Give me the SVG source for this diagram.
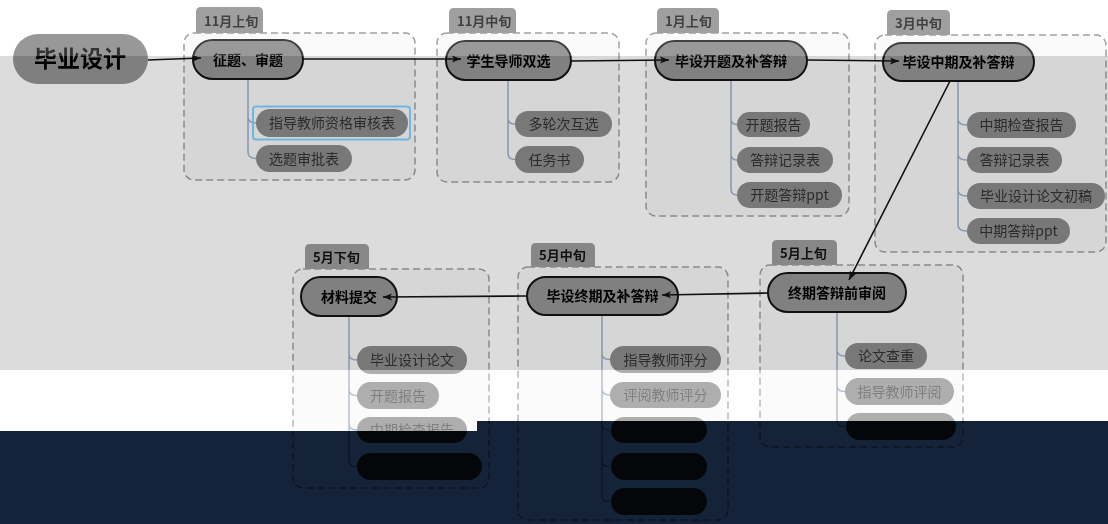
<svg xmlns="http://www.w3.org/2000/svg" width="1108" height="524" viewBox="0 0 1108 524">
<style>
.cjk{font-family:"Noto Sans CJK SC","Noto Sans",sans-serif}
.box{fill:rgba(0,0,0,0.025);stroke:#8a8a8a;stroke-width:1.5;stroke-dasharray:7 4}
.tab{fill:#878787}
.tabt{font-size:13px;font-weight:bold;fill:#111}
.main{fill:#808080;stroke:#111;stroke-width:2}
.maint{font-size:14px;font-weight:bold;fill:#000;text-anchor:middle}
.child{fill:#787878}
.childA{fill:url(#gA)}
.childB{fill:url(#gB)}
.childt{font-size:14px;fill:#2b2b2b;text-anchor:middle}
.branch{fill:none;stroke:#8797ad;stroke-width:1.5}
.flow{fill:none;stroke:#111;stroke-width:1.6;marker-end:url(#ah)}
</style>
<defs>
<marker id="ah" markerUnits="userSpaceOnUse" markerWidth="10" markerHeight="8" refX="9" refY="4" orient="auto">
<path d="M0,0.5 L9,4 L0,7.5 L2,4 Z" fill="#111"/>
</marker>
<linearGradient id="gA" gradientUnits="userSpaceOnUse" x1="0" y1="0" x2="0" y2="524">
<stop offset="0.8225" stop-color="#787878"/>
<stop offset="0.8225" stop-color="#262626"/>
</linearGradient>
<linearGradient id="gB" gradientUnits="userSpaceOnUse" x1="0" y1="0" x2="0" y2="524">
<stop offset="0.8034" stop-color="#787878"/>
<stop offset="0.8034" stop-color="#262626"/>
</linearGradient>
</defs>
<rect x="0" y="0" width="1108" height="524" fill="#fff"/>
<rect x="0" y="56" width="1108" height="314" fill="#dcdcdc"/>

<g id="root">
<rect x="13" y="34" width="135" height="50" rx="25" fill="#7f7f7f"/>
<text class="cjk" x="80" y="67" font-size="23" font-weight="bold" text-anchor="middle" fill="#000">毕业设计</text>
</g>

<g id="g1">
<path class="tab" d="M196,33 V12 Q196,7 201,7 H258 Q263,7 263,12 V33 Z"/>
<text class="cjk tabt" x="204" y="26">11月上旬</text>
<rect class="box" x="184" y="33" width="231" height="147" rx="10"/>
<path class="branch" d="M248,79 V117 Q248,123 256,123 M248,117 V152 Q248,158.5 256,158.5"/>
<rect class="main" x="193" y="40" width="110" height="39" rx="19.5"/>
<text class="cjk maint" x="248" y="64.5">征题、审题</text>
<rect x="253" y="106.5" width="157" height="33" rx="3" fill="none" stroke="#6fb6e4" stroke-width="2"/>
<rect class="child" x="256" y="109" width="152" height="28" rx="14"/>
<text class="cjk childt" x="332" y="128">指导教师资格审核表</text>
<rect class="child" x="256" y="145" width="96" height="27" rx="13.5"/>
<text class="cjk childt" x="304" y="163.5">选题审批表</text>
</g>

<g id="g2">
<path class="tab" d="M449,33 V13 Q449,8 454,8 H511 Q516,8 516,13 V33 Z"/>
<text class="cjk tabt" x="457" y="26">11月中旬</text>
<rect class="box" x="437" y="33" width="182" height="149" rx="10"/>
<path class="branch" d="M508,80 V118 Q508,124 515,124 M508,153 Q508,159.5 515,159.5 M508,118 V153"/>
<rect class="main" x="446" y="41" width="125" height="39" rx="19.5"/>
<text class="cjk maint" x="508.5" y="65.5">学生导师双选</text>
<rect class="child" x="515" y="111" width="97" height="26" rx="13"/>
<text class="cjk childt" x="563.5" y="129">多轮次互选</text>
<rect class="child" x="515" y="146" width="69" height="27" rx="13.5"/>
<text class="cjk childt" x="549.5" y="164.5">任务书</text>
</g>

<g id="g3">
<path class="tab" d="M657,33 V13 Q657,8 662,8 H714 Q719,8 719,13 V33 Z"/>
<text class="cjk tabt" x="665" y="26">1月上旬</text>
<rect class="box" x="646" y="33" width="203" height="183" rx="10"/>
<path class="branch" d="M731,80 V118.5 Q731,124.5 737,124.5 M731,118.5 V154 Q731,160 737,160 M731,154 V189 Q731,195 737,195"/>
<rect class="main" x="655" y="41" width="152" height="39" rx="19.5"/>
<text class="cjk maint" x="731" y="65.5">毕设开题及补答辩</text>
<rect class="child" x="737" y="112" width="73" height="25" rx="12.5"/>
<text class="cjk childt" x="773.5" y="129.5">开题报告</text>
<rect class="child" x="737" y="147" width="96" height="26" rx="13"/>
<text class="cjk childt" x="785" y="165">答辩记录表</text>
<rect class="child" x="737" y="182" width="105" height="26" rx="13"/>
<text class="cjk childt" x="789.5" y="200">开题答辩ppt</text>
</g>

<g id="g4">
<path class="tab" d="M887,35 V15 Q887,10 892,10 H945 Q950,10 950,15 V35 Z"/>
<text class="cjk tabt" x="895" y="28">3月中旬</text>
<rect class="box" x="875" y="35" width="231" height="217" rx="10"/>
<path class="branch" d="M958,81 V119 Q958,125 967,125 M958,119 V154 Q958,160 967,160 M958,154 V190 Q958,196 967,196 M958,190 V225 Q958,231 967,231"/>
<rect class="main" x="883" y="43" width="151" height="38" rx="19"/>
<text class="cjk maint" x="958.5" y="67">毕设中期及补答辩</text>
<rect class="child" x="967" y="112" width="109" height="26" rx="13"/>
<text class="cjk childt" x="1021.5" y="130">中期检查报告</text>
<rect class="child" x="967" y="147" width="95" height="26" rx="13"/>
<text class="cjk childt" x="1014.5" y="165">答辩记录表</text>
<rect class="child" x="967" y="183" width="138" height="26" rx="13"/>
<text class="cjk childt" x="1036" y="201">毕业设计论文初稿</text>
<rect class="child" x="967" y="218" width="103" height="26" rx="13"/>
<text class="cjk childt" x="1018.5" y="236">中期答辩ppt</text>
</g>

<g id="g5">
<path class="tab" d="M772,265 V245 Q772,240 777,240 H832 Q837,240 837,245 V265 Z"/>
<text class="cjk tabt" x="780" y="258">5月上旬</text>
<rect class="box" x="760" y="265" width="203" height="182" rx="10"/>
<path class="branch" d="M837,312 V350 Q837,356 845,356 M837,350 V385.5 Q837,391.5 845,391.5 M837,385.5 V420.5 Q837,426.5 845,426.5"/>
<rect class="main" x="768" y="273" width="138" height="39" rx="19.5"/>
<text class="cjk maint" x="837" y="297.5">终期答辩前审阅</text>
<rect class="child" x="845" y="343" width="82" height="26" rx="13"/>
<text class="cjk childt" x="886" y="361">论文查重</text>
<rect class="child" x="845" y="378" width="109" height="27" rx="13.5"/>
<text class="cjk childt" x="899.5" y="396.5">指导教师评阅</text>
<rect class="childB" x="846" y="413" width="110" height="27" rx="13.5"/>
</g>

<g id="g6">
<path class="tab" d="M531,267 V248 Q531,243 536,243 H590 Q595,243 595,248 V267 Z"/>
<text class="cjk tabt" x="539" y="260">5月中旬</text>
<rect class="box" x="518" y="267" width="210" height="253" rx="10"/>
<path class="branch" d="M602,315 V353.5 Q602,359.5 610,359.5 M602,353.5 V389 Q602,395 610,395 M602,389 V424 Q602,430 610,430 M602,424 V460.5 Q602,466.5 610,466.5 M602,460.5 V495.5 Q602,501.5 610,501.5"/>
<rect class="main" x="527" y="277" width="151" height="38" rx="19"/>
<text class="cjk maint" x="602.5" y="301">毕设终期及补答辩</text>
<rect class="child" x="610" y="346" width="111" height="27" rx="13.5"/>
<text class="cjk childt" x="665.5" y="364.5">指导教师评分</text>
<rect class="child" x="610" y="382" width="111" height="26" rx="13"/>
<text class="cjk childt" x="665.5" y="400">评阅教师评分</text>
<rect class="childB" x="611" y="417" width="96" height="26" rx="13"/>
<rect class="childB" x="611" y="453" width="96" height="27" rx="13.5"/>
<rect class="childB" x="611" y="488" width="96" height="27" rx="13.5"/>
</g>

<g id="g7">
<path class="tab" d="M305,269 V249 Q305,244 310,244 H364 Q369,244 369,249 V269 Z"/>
<text class="cjk tabt" x="313" y="262">5月下旬</text>
<rect class="box" x="293" y="269" width="196" height="219" rx="10"/>
<path class="branch" d="M349,316 V354 Q349,360 357,360 M349,354 V389.5 Q349,395.5 357,395.5 M349,389.5 V424 Q349,430 357,430 M349,424 V460.5 Q349,466.5 357,466.5"/>
<rect class="main" x="301" y="277" width="96" height="39" rx="19.5"/>
<text class="cjk maint" x="349" y="301.5">材料提交</text>
<rect class="child" x="357" y="346" width="110" height="28" rx="14"/>
<text class="cjk childt" x="412" y="365">毕业设计论文</text>
<rect class="child" x="357" y="382" width="82" height="27" rx="13.5"/>
<text class="cjk childt" x="398" y="400.5">开题报告</text>
<rect class="childA" x="357" y="417" width="110" height="26" rx="13"/>
<text class="cjk childt" x="412" y="435">中期检查报告</text>
<rect class="childA" x="357" y="453" width="125" height="27" rx="13.5"/>
</g>

<g id="connectors">
<path class="flow" d="M148,60 L201,58"/>
<path class="flow" d="M303,59 L461,59"/>
<path class="flow" d="M571,61 L669,60"/>
<path class="flow" d="M807,60 L899,61"/>
<path class="flow" d="M950,81 L849,280"/>
<path class="flow" d="M768,293 L662,295"/>
<path class="flow" d="M527,296 L383,297"/>
</g>

<rect x="0" y="0" width="1108" height="56" fill="#fff" opacity="0.2"/>
<path d="M0,370 H1108 V421 H477 V431 H0 Z" fill="#fff" opacity="0.4"/>
<path d="M0,431 H477 V421 H1108 V524 H0 Z" fill="#15233a" style="mix-blend-mode:multiply"/>
</svg>
